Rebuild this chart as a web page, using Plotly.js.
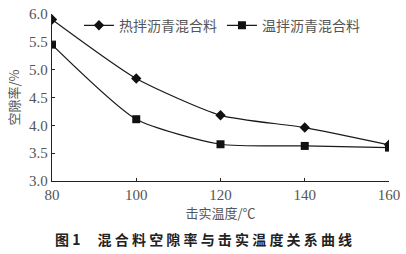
<!DOCTYPE html>
<html>
<head>
<meta charset="utf-8">
<script src="https://cdn.plot.ly/plotly-3.0.1.min.js"></script>
<style>
html,body{margin:0;padding:0;background:#fff;}
#chart{width:406px;height:254px;}
</style>
</head>
<body>
<div id="chart"></div>
<script>
var temperatures = [80, 100, 120, 140, 160];
var hotMix = [5.90, 4.84, 4.18, 3.96, 3.65];
var warmMix = [5.45, 4.11, 3.66, 3.63, 3.60];
var seriesNames = ["热拌沥青混合料", "温拌沥青混合料"];
var xTicks = [80, 100, 120, 140, 160];
var yTicks = [3.0, 3.5, 4.0, 4.5, 5.0, 5.5, 6.0];
var yTickText = ["3.0", "3.5", "4.0", "4.5", "5.0", "5.5", "6.0"];
var xTitle = "击实温度/℃";
var yTitle = "空隙率/%";
var caption = "图 1　 混 合 料 空 隙 率 与 击 实 温 度 关 系 曲 线";

var serif = "Liberation Serif, DejaVu Serif, serif";
var cjk = "Noto Sans CJK SC, sans-serif";
var gray = "#555";

var traces = [
  {
    x: temperatures, y: hotMix, name: seriesNames[0], type: "scatter", mode: "lines+markers",
    line: {color: "#1a1a1a", width: 1.2, shape: "spline", smoothing: 0.6},
    marker: {symbol: "diamond", size: 8, color: "#111"}
  },
  {
    x: temperatures, y: warmMix, name: seriesNames[1], type: "scatter", mode: "lines+markers",
    line: {color: "#1a1a1a", width: 1.2, shape: "spline", smoothing: 0.6},
    marker: {symbol: "square", size: 8, color: "#111"}
  }
];

var layout = {
  width: 406, height: 254,
  margin: {l: 52, r: 17, t: 10, b: 73},
  paper_bgcolor: "#fff", plot_bgcolor: "#fff",
  showlegend: true,
  legend: {
    orientation: "h", x: 0.08, y: 0.93, xanchor: "left", yanchor: "middle",
    font: {family: cjk, size: 14, color: gray},
    bgcolor: "rgba(0,0,0,0)", itemwidth: 30, tracegroupgap: 0
  },
  xaxis: {
    range: [80, 160], tickvals: xTicks, ticks: "inside", ticklen: 3, tickcolor: "#222",
    showline: true, linecolor: "#222", linewidth: 1.2, showgrid: false, zeroline: false,
    tickfont: {family: serif, size: 15, color: gray},
    title: {text: xTitle, font: {family: cjk, size: 13, color: gray}, standoff: 3}
  },
  yaxis: {
    range: [3.0, 6.0], tickvals: yTicks, ticktext: yTickText, ticks: "inside", ticklen: 3, tickcolor: "#222",
    showline: true, linecolor: "#222", linewidth: 1.2, showgrid: false, zeroline: false,
    tickfont: {family: serif, size: 15, color: gray},
    title: {text: yTitle, font: {family: cjk, size: 13, color: gray}, standoff: 6}
  },
  annotations: [
    {
      text: "<b>" + caption + "</b>", xref: "paper", yref: "paper", x: 0.45, y: -0.345,
      xanchor: "center", yanchor: "middle", showarrow: false,
      font: {family: cjk, size: 14, color: "#222"}
    }
  ]
};

Plotly.newPlot("chart", traces, layout, {displayModeBar: false, staticPlot: true});
</script>
</body>
</html>
